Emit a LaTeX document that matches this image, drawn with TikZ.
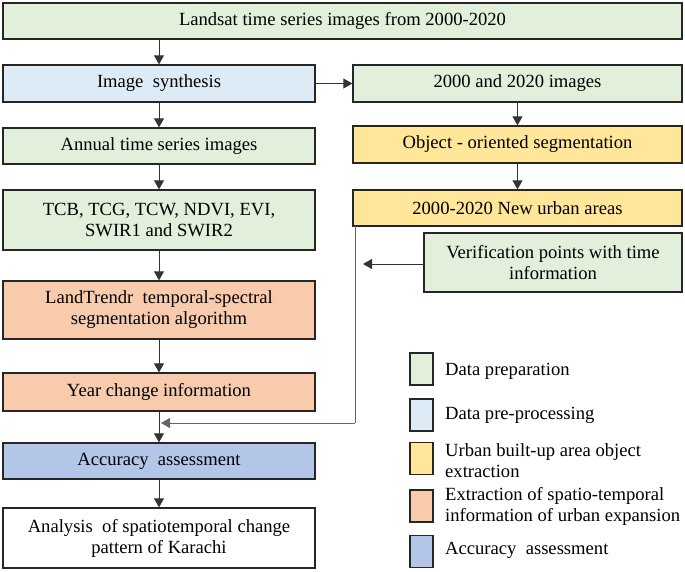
\documentclass[tikz,border=0pt]{standalone}
\usepackage{fontspec}
\setmainfont{Liberation Serif}
\usetikzlibrary{arrows.meta}
\definecolor{cgreen}{HTML}{E2EFDA}
\definecolor{cblue}{HTML}{DDEBF7}
\definecolor{cyellow}{HTML}{FFE699}
\definecolor{corange}{HTML}{F8CBAD}
\definecolor{cdblue}{HTML}{B4C6E7}
\tikzset{
  box/.style={draw=black!85, line width=1.3pt, inner sep=0pt, align=center,
    font=\fontsize{18.6}{21}\selectfont},
  lbox/.style={draw=black!85, line width=1.3pt, inner sep=0pt, minimum width=23, minimum height=32},
  ltext/.style={anchor=west, inner sep=0pt, align=left, font=\fontsize{18.6}{21}\selectfont},
  arr/.style={draw=black!80, line width=0.8pt, -{Triangle[width=10pt,length=9pt]}},
  ln/.style={draw=black!60, line width=0.8pt}
}
\begin{document}
\begin{tikzpicture}[x=1pt,y=-1pt]
\useasboundingbox (0,0) rectangle (685,571);
\node[box, fill=cgreen, minimum width=679, minimum height=36] (top) at (342.5,21) {Landsat time series images from 2000-2020};
\node[box, fill=cblue, minimum width=312, minimum height=37] (synth) at (159,83.5) {Image\hspace{0.5em}synthesis};
\node[box, fill=cgreen, minimum width=329, minimum height=37] (img2) at (517.5,83.5) {2000 and 2020 images};
\node[box, fill=cgreen, minimum width=312, minimum height=36] (annual) at (159,146) {Annual time series images};
\node[box, fill=cyellow, minimum width=329, minimum height=37] (object) at (517.5,144.5) {Object - oriented segmentation};
\node[box, fill=cgreen, minimum width=312, minimum height=60] (tcb) at (159,220) {TCB, TCG, TCW, NDVI, EVI,\\SWIR1 and SWIR2};
\node[box, fill=cyellow, minimum width=329, minimum height=36] (urban) at (517.5,208) {2000-2020 New urban areas};
\node[box, fill=cgreen, minimum width=258, minimum height=59] (verif) at (553,262.5) {Verification points with time\\information};
\node[box, fill=corange, minimum width=312, minimum height=58] (land) at (159,310) {LandTrendr\hspace{0.5em}temporal-spectral\\segmentation algorithm};
\node[box, fill=corange, minimum width=312, minimum height=38] (year) at (159,392) {Year change information};
\node[box, fill=cdblue, minimum width=312, minimum height=36] (acc) at (159,461) {Accuracy\hspace{0.5em}assessment};
\node[box, fill=white, minimum width=312, minimum height=60] (anal) at (159,538) {Analysis\hspace{0.5em}of spatiotemporal change\\pattern of Karachi};

% connectors
\draw[arr] (top.south -| synth.north) -- (synth.north);
\draw[arr] (synth.east) -- (img2.west);
\draw[arr] (synth) -- (annual);
\draw[arr] (img2) -- (object);
\draw[arr] (annual) -- (tcb);
\draw[arr] (object) -- (urban);
\draw[arr] (tcb) -- (land);
\draw[arr] (land) -- (year);
\draw[arr] (year) -- (acc);
\draw[arr] (acc) -- (anal);
\coordinate (vtop) at (355,226);
\coordinate (vbot) at (355,423);
\coordinate (vin) at (363,264);
\coordinate (hend) at (161,423);
\draw[ln] (vtop) -- (vbot);
\draw[arr, draw=black!60] (vbot) -- (hend);
\draw[arr] (verif.west |- vin) -- (vin);

% legend
\node[lbox, fill=cgreen] (l1) at (421.5,369) {};
\node[lbox, fill=cblue] (l2) at (421.5,415) {};
\node[lbox, fill=cyellow] (l3) at (421.5,458.5) {};
\node[lbox, fill=corange] (l4) at (421.5,506) {};
\node[lbox, fill=cdblue] (l5) at (421.5,551.5) {};
\node[ltext] (t1) at (445,371) {Data preparation};
\node[ltext] (t2) at (445,415) {Data pre-processing};
\node[ltext] (t3) at (445,461) {Urban built-up area object\\extraction};
\node[ltext] (t4) at (445,506) {Extraction of spatio-temporal\\information of urban expansion};
\node[ltext] (t5) at (445,550) {Accuracy\hspace{0.5em}assessment};
\end{tikzpicture}
\end{document}
